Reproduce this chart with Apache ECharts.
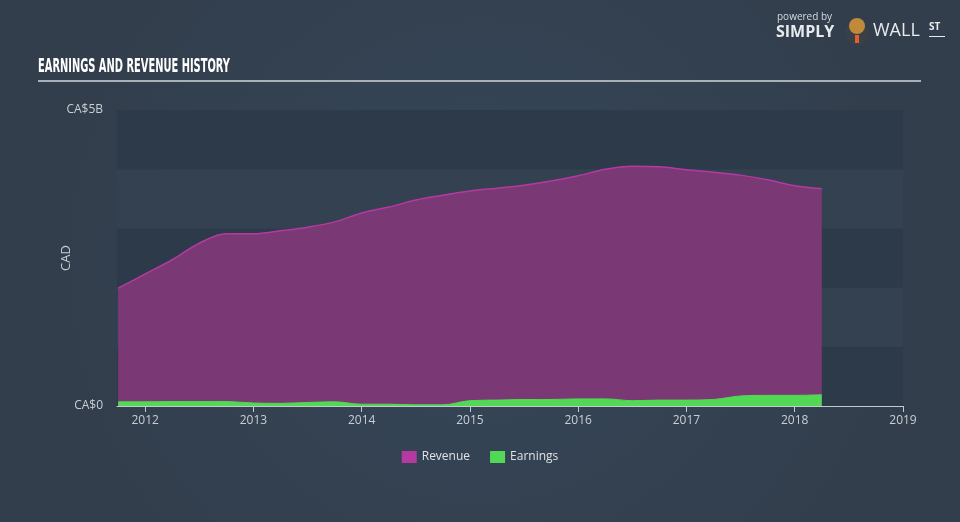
<!DOCTYPE html>
<html>
<head>
<meta charset="utf-8">
<script src="https://cdn.jsdelivr.net/npm/echarts@6/dist/echarts.min.js"></script>
<style>
html,body{margin:0;padding:0;background:#344252;}
#c{width:960px;height:522px;}
</style>
</head>
<body>
<div id="c"></div>
<script>
// Quarter positions (decimal years)
const periods = [2011.75,2012.0,2012.25,2012.5,2012.75,2013.0,2013.25,2013.5,2013.75,2014.0,2014.25,2014.5,2014.75,2015.0,2015.25,2015.5,2015.75,2016.0,2016.25,2016.5,2016.75,2017.0,2017.25,2017.5,2017.75,2018.0,2018.25];
// Revenue in CA$ billions
const revenue = [1.99,2.23,2.47,2.75,2.91,2.91,2.96,3.02,3.11,3.26,3.36,3.48,3.56,3.63,3.68,3.73,3.80,3.89,4.00,4.05,4.04,3.99,3.95,3.90,3.82,3.72,3.67];
// Earnings in CA$ billions
const earnings = [0.07,0.07,0.075,0.075,0.075,0.05,0.045,0.06,0.07,0.03,0.03,0.02,0.02,0.09,0.10,0.11,0.11,0.12,0.12,0.09,0.10,0.10,0.11,0.17,0.18,0.18,0.19];
const yearTicks = [2012,2013,2014,2015,2016,2017,2018,2019];
const yLabelValues = [0,5];
const titleText = 'EARNINGS AND REVENUE HISTORY';
const yAxisName = 'CAD';

const chart = echarts.init(document.getElementById('c'));
const pair = (arr) => periods.map((p,i)=>[p,arr[i]]);
const labelFont = 'Open Sans';

const titleFont = 'bold 20px "DejaVu Sans Condensed", "DejaVu Sans", sans-serif';
const cv = document.createElement('canvas').getContext('2d');
cv.font = titleFont;
const tw = cv.measureText(titleText).width;
const titleScale = 192 / tw;

chart.setOption({
  backgroundColor: {
    type:'radial', x:0.5, y:0.5, r:0.8,
    colorStops:[{offset:0,color:'#36475a'},{offset:1,color:'#323e4c'}]
  },
  animation:false,
  textStyle:{fontFamily:labelFont},
  graphic:[
    {type:'text', x:38, y:58, scaleX:titleScale, scaleY:0.95, style:{text:titleText, fill:'#ffffff', font:titleFont}},
    {type:'rect', shape:{x:38,y:80,width:883,height:2}, style:{fill:'#a9b0b8'}},
    {type:'text', x:66, y:258, rotation:Math.PI/2, style:{text:yAxisName, fill:'#c9ced4', font:'13px "Open Sans", sans-serif', align:'center', verticalAlign:'middle'}},
    {type:'text', x:777, y:12, style:{text:'powered by', fill:'#d6dade', font:'10px "Open Sans", sans-serif'}},
    {type:'text', x:776, y:24, style:{text:'SIMPLY', fill:'#e8ebee', font:'bold 16px "Open Sans", sans-serif'}},
    {type:'circle', shape:{cx:857,cy:33,r:12}, style:{fill:'#3b3f46'}},
    {type:'circle', shape:{cx:857,cy:26,r:8}, style:{fill:'#c08a3a'}},
    {type:'rect', shape:{x:855,y:35,width:4,height:8}, style:{fill:'#e0622a'}},
    {type:'text', x:873, y:22, style:{text:'WALL', fill:'#e8ebee', font:'18px "Open Sans", sans-serif'}},
    {type:'text', x:929, y:22, style:{text:'ST', fill:'#e8ebee', font:'bold 10px "Open Sans", sans-serif'}},
    {type:'rect', shape:{x:929,y:36,width:16,height:1}, style:{fill:'#e8ebee'}}
  ],
  legend:{
    data:['Revenue','Earnings'],
    left:'center', top:446,
    icon:'rect', itemWidth:15, itemHeight:12, itemGap:20,
    textStyle:{color:'#dfe2e6', fontSize:12, fontFamily:labelFont}
  },
  grid:{left:117, right:57, top:110, bottom:116, containLabel:false},
  xAxis:{
    type:'value', min:2011.74, max:2019,
    axisLine:{show:true, lineStyle:{color:'#c3c9d0', width:1}},
    axisTick:{show:true, customValues:yearTicks, length:6, lineStyle:{color:'#c3c9d0'}},
    axisLabel:{customValues:yearTicks, color:'#c9ced4', fontSize:12, margin:9, formatter:(v)=>String(Math.round(v))},
    splitLine:{show:false}
  },
  yAxis:{
    type:'value', min:0, max:5, interval:1,
    axisLine:{show:false}, axisTick:{show:false},
    axisLabel:{customValues:yLabelValues, color:'#c9ced4', fontSize:12, margin:14,
      formatter:(v)=> v===0 ? 'CA$0' : 'CA$'+v+'B'},
    splitLine:{show:false},
    splitArea:{show:true, areaStyle:{color:['#2d3a49','#334150']}}
  },
  series:[
    {
      name:'Revenue', type:'line', data:pair(revenue), smooth:0.35, symbol:'none',
      lineStyle:{color:'#b43aa2', width:1.5},
      itemStyle:{color:'#b43aa2'},
      areaStyle:{color:'#7a3874', opacity:1},
      z:2
    },
    {
      name:'Earnings', type:'line', data:pair(earnings), smooth:0.35, symbol:'none',
      lineStyle:{color:'#52d855', width:1},
      itemStyle:{color:'#52d855'},
      areaStyle:{color:'#52d855', opacity:1},
      z:3
    }
  ]
});
</script>
</body>
</html>
